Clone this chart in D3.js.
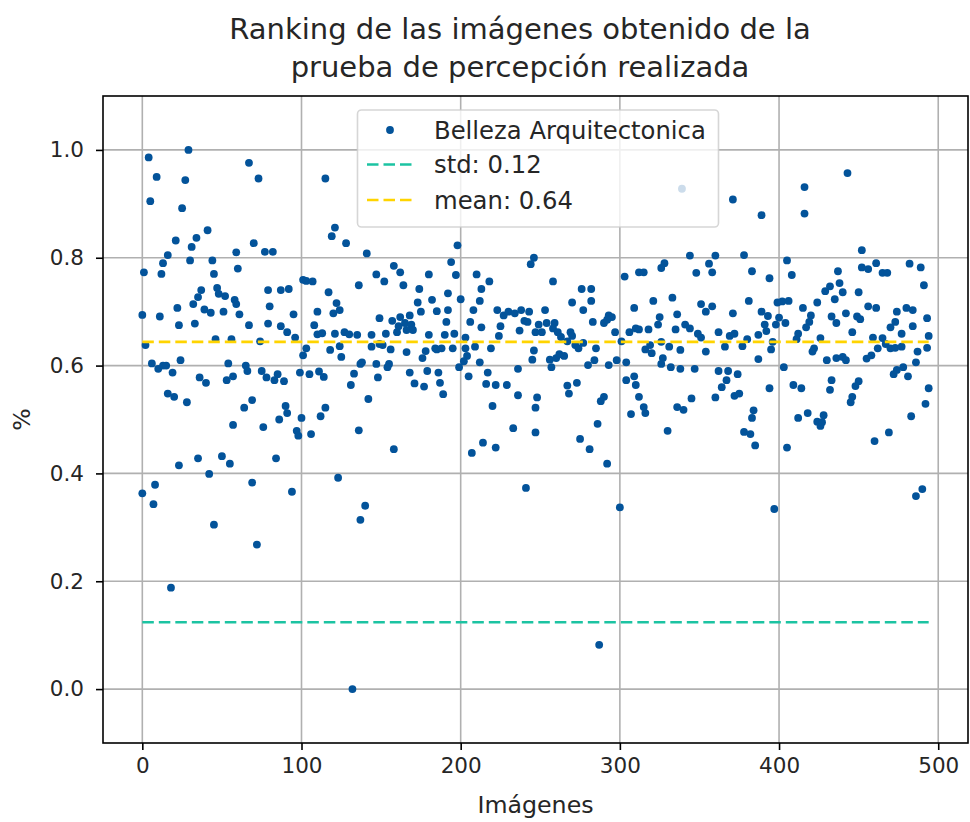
<!DOCTYPE html>
<html>
<head>
<meta charset="utf-8">
<script src="https://cdn.jsdelivr.net/npm/d3@7"></script>
<style>
  html, body { margin: 0; padding: 0; background: #ffffff; }
  svg { display: block; font-family: "DejaVu Sans", sans-serif; }
</style>
</head>
<body>
<svg id="chart" width="970" height="822"></svg>
<script>
// Image number (x) and architectural beauty score (y) for each rated image
const imageIndex = [
  4,29,9,27,5,25,41,34,21,31, 16,13,1,12,30,44,45,59,60,37,
  47,48,52,35,32,58,59,0,11,22, 23,33,39,43,51,61,2,46,56,6,
  10,13,15,19,24,54,36,40,53,57, 16,20,28,57,35,23,50,55,42,8,
  0,7,45,18,
  67,73,115,121,119,70,77,82,101,103, 107,79,87,92,117,80,95,110,120,122,
  67,79,87,91,96,108,110,113,121,74, 103,101,118,124,65,66,75,85,89,99,
  105,111,114,78,83,69,64,90,91,86, 115,112,76,100,97,98,106,84,69,94,
  72,123,
  124,128,141,158,162,147,152,180,136,164, 174,173,182,175,185,149,157,162,168,165,
  169,160,166,170,161,127,130,135,144,153, 180,144,149,151,156,166,178,184,125,176,
  138,137,147,155,154,133,131,148,168,171, 177,179,186,142,136,158,140,137,132,
  198,194,197,210,218,213,192,200,212,192, 208,223,191,206,213,190,196,203,225,227,
  230,234,238,243,240,242,237,247,224,185, 188,195,203,209,219,204,202,199,212,205,
  217,216,222,229,236,245,187,189,220,236, 247,233,247,214,207,222,241,
  246,244,258,276,282,270,282,277,253,283, 293,295,290,292,249,251,254,259,258,261,
  263,269,270,267,272,274,277,285,297,301, 306,310,309,303,312,246,256,257,260,262,
  265,280,284,293,298,304,304,310,267,268, 273,248,290,288,286,307,312,275,281,292,
  300,287,
  339,371,344,360,328,326,315,348,356,358, 333,321,351,354,358,371,325,336,324,341,
  344,335,312,318,362,369,372,349,316,319, 326,331,351,320,338,354,366,327,326,332,
  338,347,362,368,374,309,364,367,315,316, 336,340,345,360,372,330,
  389,416,416,378,405,383,408,394,437,381, 399,402,406,415,424,429,432,435,438,389,
  393,391,392,400,398,404,420,419,417,433, 436,377,380,387,396,395,412,411,426,422,
  421,387,430,436,403,394,409,414,432,375, 384,383,378,382,385,412,418,424,426,428,
  427,405,397,
  443,452,452,456,461,465,468,482,489,491, 440,450,456,461,442,449,451,474,480,484,
  493,473,470,484,477,494,446,459,465,462, 467,470,473,477,487,493,440,442,455,458,
  486,472,474,478,481,433,450,448,446,445, 494,492,483,469,460,490,486
];
const beautyScore = [
  0.986,1.000,0.950,0.944,0.905,0.892,0.851,0.837,0.832,0.820, 0.805,0.790,0.773,0.770,0.795,0.795,0.770,0.810,0.780,0.740,
  0.744,0.733,0.729,0.727,0.714,0.722,0.714,0.694,0.691,0.707, 0.675,0.678,0.704,0.698,0.700,0.695,0.638,0.649,0.649,0.604,
  0.594,0.600,0.600,0.587,0.610,0.604,0.578,0.568,0.573,0.580, 0.548,0.542,0.532,0.490,0.428,0.415,0.432,0.418,0.399,0.379,
  0.363,0.343,0.305,0.188,
  0.976,0.947,0.947,0.856,0.840,0.827,0.811,0.811,0.759,0.757, 0.756,0.740,0.740,0.742,0.736,0.710,0.695,0.700,0.697,0.716,
  0.675,0.678,0.673,0.662,0.652,0.675,0.658,0.660,0.659,0.645, 0.632,0.619,0.629,0.636,0.600,0.590,0.590,0.584,0.571,0.587,
  0.584,0.589,0.579,0.578,0.573,0.536,0.522,0.525,0.512,0.500, 0.522,0.506,0.486,0.503,0.479,0.470,0.473,0.428,0.383,0.366,
  0.268,0.392,
  0.703,0.827,0.808,0.785,0.773,0.769,0.756,0.769,0.749,0.749, 0.742,0.717,0.722,0.700,0.701,0.688,0.683,0.690,0.693,0.679,
  0.676,0.662,0.666,0.666,0.673,0.662,0.658,0.657,0.657,0.659, 0.657,0.635,0.640,0.638,0.630,0.625,0.627,0.632,0.616,0.614,
  0.606,0.603,0.603,0.603,0.597,0.585,0.564,0.578,0.587,0.567, 0.561,0.590,0.587,0.538,0.480,0.445,0.340,0.314,0.000,
  0.823,0.792,0.768,0.769,0.756,0.742,0.734,0.723,0.720,0.703, 0.703,0.703,0.681,0.681,0.671,0.657,0.659,0.652,0.673,0.693,
  0.700,0.697,0.703,0.700,0.683,0.681,0.665,0.662,0.655,0.630, 0.632,0.632,0.632,0.635,0.632,0.618,0.608,0.597,0.606,0.580,
  0.587,0.566,0.564,0.564,0.594,0.611,0.568,0.547,0.525,0.545, 0.522,0.484,0.476,0.457,0.438,0.448,0.373,
  0.800,0.788,0.756,0.742,0.742,0.717,0.720,0.703,0.703,0.681, 0.693,0.690,0.679,0.685,0.676,0.662,0.679,0.679,0.669,0.662,
  0.653,0.662,0.655,0.645,0.638,0.632,0.642,0.632,0.662,0.645, 0.662,0.669,0.707,0.765,0.773,0.628,0.611,0.597,0.614,0.621,
  0.618,0.601,0.610,0.601,0.610,0.606,0.573,0.564,0.563,0.548, 0.568,0.541,0.542,0.534,0.492,0.510,0.542,0.464,0.445,0.418,
  0.337,0.082,
  0.928,0.908,0.804,0.804,0.790,0.781,0.773,0.772,0.789,0.773, 0.726,0.720,0.714,0.700,0.710,0.697,0.690,0.695,0.676,0.676,
  0.669,0.667,0.667,0.667,0.662,0.655,0.659,0.659,0.630,0.638, 0.644,0.635,0.652,0.623,0.629,0.626,0.635,0.614,0.603,0.597,
  0.594,0.594,0.590,0.590,0.584,0.580,0.560,0.573,0.523,0.512, 0.523,0.518,0.539,0.541,0.544,0.479,
  0.879,0.931,0.882,0.805,0.795,0.775,0.768,0.762,0.775,0.720, 0.717,0.719,0.720,0.707,0.717,0.738,0.747,0.723,0.753,0.700,
  0.692,0.676,0.664,0.689,0.676,0.679,0.693,0.681,0.671,0.691, 0.679,0.636,0.649,0.657,0.644,0.630,0.659,0.649,0.651,0.632,
  0.626,0.612,0.610,0.614,0.597,0.558,0.564,0.558,0.555,0.548, 0.517,0.503,0.477,0.473,0.452,0.503,0.512,0.496,0.488,0.508,
  0.495,0.448,0.334,
  0.957,0.814,0.782,0.779,0.790,0.772,0.772,0.789,0.782,0.749, 0.736,0.736,0.710,0.707,0.697,0.691,0.686,0.700,0.707,0.703,
  0.688,0.681,0.671,0.673,0.659,0.655,0.662,0.652,0.651,0.632, 0.640,0.632,0.633,0.635,0.626,0.633,0.616,0.610,0.613,0.619,
  0.606,0.584,0.592,0.597,0.580,0.573,0.571,0.562,0.542,0.532, 0.558,0.529,0.506,0.476,0.460,0.371,0.358
];

const imageCount = 495;          // images 0 .. 494
const meanValue = 0.644;         // mean of the scores
const stdValue = 0.124;          // standard deviation of the scores
const xTicks = [0, 100, 200, 300, 400, 500];
const yTicks = [0.0, 0.2, 0.4, 0.6, 0.8, 1.0];
const titleLines = ["Ranking de las imágenes obtenido de la", "prueba de percepción realizada"];
const seriesName = "Belleza Arquitectonica";
const xLabel = "Imágenes";
const yLabel = "%";

const colors = { point: "#03539a", std: "#1cc3a2", mean: "#ffd400", grid: "#b0b0b0", text: "#262626" };
const fonts = { tick: 21.5, label: 23.7, legend: 24.3, title: 29 };

const svg = d3.select("#chart");
const plot = { left: 103, right: 968, top: 96, bottom: 743 };

const pad = (imageCount - 1) * 0.05;
const x = d3.scaleLinear().domain([-pad, imageCount - 1 + pad]).range([plot.left, plot.right]);
const y = d3.scaleLinear().domain([-0.1, 1.1]).range([plot.bottom, plot.top]);

// grid
const grid = svg.append("g");
grid.selectAll("line.gx").data(xTicks).join("line")
  .attr("x1", d => x(d)).attr("x2", d => x(d))
  .attr("y1", plot.top).attr("y2", plot.bottom)
  .attr("stroke", colors.grid).attr("stroke-width", 1.6);
grid.selectAll("line.gy").data(yTicks).join("line")
  .attr("x1", plot.left).attr("x2", plot.right)
  .attr("y1", d => y(d)).attr("y2", d => y(d))
  .attr("stroke", colors.grid).attr("stroke-width", 1.6);

// data points
const points = imageIndex.map((d, i) => ({ img: d, v: beautyScore[i] }));
svg.append("g").selectAll("circle").data(points).join("circle")
  .attr("cx", d => x(d.img)).attr("cy", d => y(d.v))
  .attr("r", 3.9).attr("fill", colors.point);

// std and mean reference lines
const refLines = [
  { value: stdValue, color: colors.std },
  { value: meanValue, color: colors.mean }
];
svg.append("g").selectAll("line").data(refLines).join("line")
  .attr("x1", x(0)).attr("x2", x(imageCount - 1))
  .attr("y1", d => y(d.value)).attr("y2", d => y(d.value))
  .attr("stroke", d => d.color).attr("stroke-width", 2.6)
  .attr("stroke-dasharray", "11.5,5");

// axes
const xAxis = d3.axisBottom(x).tickValues(xTicks).tickFormat(d3.format("d")).tickSize(7).tickPadding(7.5);
const yAxis = d3.axisLeft(y).tickValues(yTicks).tickFormat(d3.format(".1f")).tickSize(7).tickPadding(12);

const gx = svg.append("g").attr("transform", `translate(0,${plot.bottom})`).call(xAxis);
const gy = svg.append("g").attr("transform", `translate(${plot.left},0)`).call(yAxis);
[gx, gy].forEach(g => {
  g.select(".domain").remove();
  g.selectAll(".tick line").attr("stroke", "#000").attr("stroke-width", 1.6);
  g.selectAll(".tick text").attr("fill", colors.text).style("font-size", fonts.tick + "px")
    .style("font-family", "'DejaVu Sans', sans-serif");
});

// frame
svg.append("rect")
  .attr("x", plot.left).attr("y", plot.top)
  .attr("width", plot.right - plot.left).attr("height", plot.bottom - plot.top)
  .attr("fill", "none").attr("stroke", "#000").attr("stroke-width", 1.6);

// axis labels
svg.append("text")
  .attr("x", (plot.left + plot.right) / 2).attr("y", 813)
  .attr("text-anchor", "middle").attr("fill", colors.text)
  .style("font-size", fonts.label + "px").text(xLabel);
svg.append("text")
  .attr("transform", `translate(30,${(plot.top + plot.bottom) / 2}) rotate(-90)`)
  .attr("text-anchor", "middle").attr("fill", colors.text)
  .style("font-size", fonts.label + "px").text(yLabel);

// title, two lines
const titleCenter = 520;
svg.append("g").selectAll("text").data(titleLines).join("text")
  .attr("x", titleCenter)
  .attr("y", (d, i) => 38.5 + i * 38.5)
  .attr("text-anchor", "middle").attr("fill", colors.text)
  .style("font-size", fonts.title + "px").text(d => d);

// legend
const legend = svg.append("g");
legend.append("rect")
  .attr("x", 357.5).attr("y", 110).attr("width", 361).attr("height", 117).attr("rx", 4)
  .attr("fill", "#ffffff").attr("fill-opacity", 0.8)
  .attr("stroke", "#cccccc").attr("stroke-opacity", 0.8).attr("stroke-width", 1.6);
const legendRows = [
  { label: seriesName, type: "point", color: colors.point },
  { label: "std: " + stdValue.toFixed(2), type: "line", color: colors.std },
  { label: "mean: " + meanValue.toFixed(2), type: "line", color: colors.mean }
];
const rowY = [130, 164.5, 200];
legendRows.forEach((r, i) => {
  if (r.type === "point") {
    legend.append("circle").attr("cx", 390).attr("cy", rowY[i]).attr("r", 3.9).attr("fill", r.color);
  } else {
    legend.append("line")
      .attr("x1", 367).attr("x2", 414).attr("y1", rowY[i]).attr("y2", rowY[i])
      .attr("stroke", r.color).attr("stroke-width", 2.6).attr("stroke-dasharray", "11.5,5");
  }
  legend.append("text")
    .attr("x", 434).attr("y", rowY[i]).attr("dy", "0.36em")
    .attr("fill", colors.text).style("font-size", fonts.legend + "px").text(r.label);
});
</script>
</body>
</html>
